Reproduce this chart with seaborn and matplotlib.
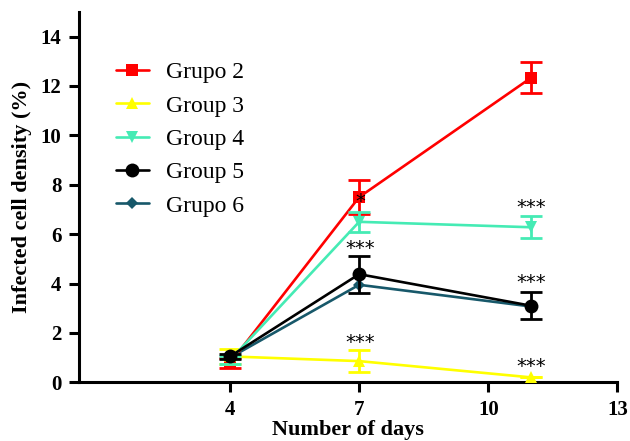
import numpy as np
import pandas as pd
import matplotlib
matplotlib.use("Agg")
import matplotlib.pyplot as plt
import seaborn as sns

days = [4, 7, 11]
groups = ["Grupo 2", "Group 3", "Group 4", "Group 5", "Grupo 6"]
grupo2 = [0.78, 7.5, 12.34]
grupo2_err = [0.2, 0.68, 0.62]
group3 = [1.05, 0.86, 0.2]
group3_err = [0.3, 0.46, 0.0]
group4 = [0.9, 6.5, 6.28]
group4_err = [0.15, 0.4, 0.45]
group5 = [1.05, 4.38, 3.1]
group5_err = [0.1, 0.75, 0.55]
grupo6 = [1.0, 3.95, 3.07]
grupo6_err = [0.0, 0.0, 0.0]

x_ticks = [4, 7, 10, 13]
y_ticks = [0, 2, 4, 6, 8, 10, 12, 14]

# significance annotations: (x, y, text)
star_x = [7.03, 7.03, 7.03, 11.0, 11.0, 11.0]
star_y = [1.62, 5.42, 7.33, 7.08, 4.05, 0.65]
star_txt = ["***", "***", "*", "***", "***", "***"]

colors = {"Grupo 2": "#FF0000", "Group 3": "#FFFF00", "Group 4": "#45EBB4",
          "Group 5": "#000000", "Grupo 6": "#17586A"}
markers = {"Grupo 2": "s", "Group 3": "^", "Group 4": "v",
           "Group 5": "o", "Grupo 6": "D"}
msizes = {"Grupo 2": 9, "Group 3": 9, "Group 4": 9, "Group 5": 10, "Grupo 6": 6.5}
zorders = {"Grupo 6": 2, "Grupo 2": 3, "Group 3": 4, "Group 4": 5, "Group 5": 6}

vals = [grupo2, group3, group4, group5, grupo6]
errs = [grupo2_err, group3_err, group4_err, group5_err, grupo6_err]

rows = []
for g, v, e in zip(groups, vals, errs):
    for d, vv, ee in zip(days, v, e):
        rows.append({"day": d, "value": vv, "err": ee, "group": g})
df = pd.DataFrame(rows)

sns.set_theme(style="ticks")
plt.rcParams["font.family"] = ["Liberation Serif", "DejaVu Serif"]
plt.rcParams["text.color"] = "black"
plt.rcParams["axes.labelcolor"] = "black"

fig = plt.figure(figsize=(6.3, 4.41), dpi=100)
ax = fig.add_axes([0.126, 0.133, 0.854, 0.84])

for g in groups:
    sub = df[df["group"] == g]
    sns.lineplot(data=sub, x="day", y="value", color=colors[g], marker=markers[g],
                 markersize=msizes[g], markeredgewidth=0, linewidth=1.9,
                 label=g, ax=ax, zorder=zorders[g], errorbar=None)
    if sub["err"].max() > 0:
        ax.errorbar(sub["day"], sub["value"], yerr=sub["err"], fmt="none",
                    ecolor=colors[g], elinewidth=2.0, capsize=8, capthick=2.0,
                    zorder=zorders[g])

for sx, sy, st in zip(star_x, star_y, star_txt):
    ax.text(sx, sy, st, ha="center", va="center", fontsize=14,
            family="DejaVu Sans", color="black", zorder=10)

ax.set_xlim(0.5, 13)
ax.set_ylim(0, 15)
ax.set_xticks(x_ticks)
ax.set_yticks(y_ticks)
ax.set_xticklabels([str(t) for t in x_ticks], fontsize=15, fontweight="bold")
ax.set_yticklabels([str(t) for t in y_ticks], fontsize=15, fontweight="bold")
ax.set_xlabel("Number of days", fontsize=16, fontweight="bold", labelpad=0)
ax.set_ylabel("Infected cell density (%)", fontsize=16, fontweight="bold", labelpad=6)
sns.despine(ax=ax)
for s in ["left", "bottom"]:
    ax.spines[s].set_linewidth(2.2)
    ax.spines[s].set_color("black")
ax.tick_params(axis="both", width=2.2, length=7, direction="out", pad=6,
               color="black", labelcolor="black")

leg = ax.legend(loc="upper left", bbox_to_anchor=(0.184, 0.86),
                bbox_transform=fig.transFigure, frameon=False, fontsize=17,
                handlelength=1.4, handletextpad=0.7, labelspacing=0.5,
                borderpad=0, borderaxespad=0)

fig.savefig("out.png", dpi=100)
